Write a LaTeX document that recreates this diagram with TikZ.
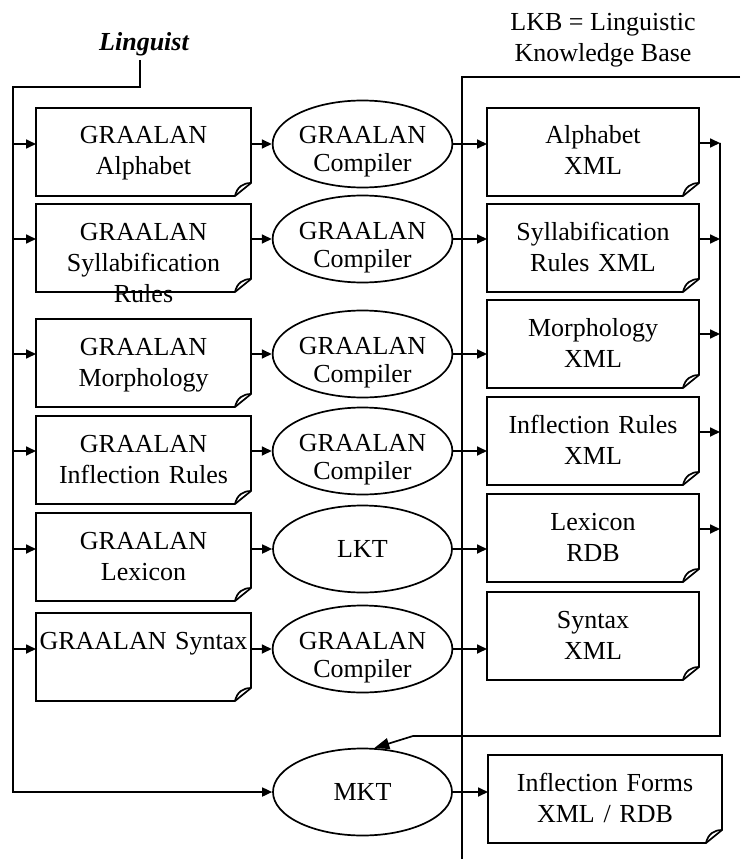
\documentclass[tikz,border=0pt]{standalone}
\usepackage{fontspec}
\setmainfont{Liberation Serif}
\usetikzlibrary{shapes.geometric,arrows.meta}

% two lines in an ellipse, first baseline on the centre line
\newcommand{\twol}[2]{\raisebox{0pt}[30pt][30pt]{\begin{tabular}[t]{@{}c@{}}#1\\#2\end{tabular}}}

\tikzset{
  doc/.style={anchor=north west, text width=215pt, align=center, text height=36pt,
    text depth=52pt, inner sep=0pt, outer sep=0pt},
  tool/.style={ellipse, draw, minimum width=179pt, minimum height=87pt, inner sep=0pt,
    font=\fontsize{26}{28}\selectfont},
  flow/.style={-{Triangle[length=10pt,width=9pt]}},
}

\begin{document}
\begin{tikzpicture}[x=1pt,y=-1pt,line width=1.7pt,font=\fontsize{26}{31}\selectfont]
    \useasboundingbox (0,0) rectangle (740,861);

    % labels on top
    \node[font=\fontsize{26}{31}\selectfont\bfseries\itshape] (ling) at (144,44) {Linguist};
    \node[align=center] (lkb) at (603,40) {LKB = Linguistic\\Knowledge Base};

    % source files
    \node[doc] (l1) at (36,108) {GRAALAN\\Alphabet};
    \node[doc] (l2) at (36,204) {GRAALAN\\Syllabification\\Rules};
    \node[doc] (l3) at (36,319) {GRAALAN\\Morphology};
    \node[doc] (l4) at (36,416) {GRAALAN\\Inflection Rules};
    \node[doc] (l5) at (36,513) {GRAALAN\\Lexicon};
    \node[doc] (l6) at (36,613) {GRAALAN Syntax};

    % tools
    \node[tool] (e1) at (362.5,144) {\twol{GRAALAN}{Compiler}};
    \node[tool] (e2) at (362.5,239) {\twol{GRAALAN}{Compiler}};
    \node[tool] (e3) at (362.5,354) {\twol{GRAALAN}{Compiler}};
    \node[tool] (e4) at (362.5,451) {\twol{GRAALAN}{Compiler}};
    \node[tool] (e5) at (362.5,549) {LKT};
    \node[tool] (e6) at (362.5,649) {\twol{GRAALAN}{Compiler}};
    \node[tool] (mkt) at (362.5,792) {MKT};

    % LKB files
    \node[doc, text width=212pt] (r1) at (487,108) {Alphabet\\XML};
    \node[doc, text width=212pt] (r2) at (487,204) {Syllabification\\Rules XML};
    \node[doc, text width=212pt] (r3) at (487,300) {Morphology\\XML};
    \node[doc, text width=212pt] (r4) at (487,397) {Inflection Rules\\XML};
    \node[doc, text width=212pt] (r5) at (487,494) {Lexicon\\RDB};
    \node[doc, text width=212pt] (r6) at (487,592) {Syntax\\XML};
    \node[doc, text width=234pt] (r7) at (488,755) {Inflection Forms\\XML / RDB};

    % document outlines with folded corner
    \foreach \n in {l1,l2,l3,l4,l5,l6,r1,r2,r3,r4,r5,r6,r7} {
        \draw (\n.north west) -- (\n.north east) -- ([yshift=13pt]\n.south east)
            -- ([xshift=-16pt]\n.south east) -- (\n.south west) -- cycle;
        \draw ([xshift=-16pt]\n.south east) .. controls +(2,-9) and +(-8,0) .. ([yshift=13pt]\n.south east);
    }

    % LKB frame
    \coordinate (kb) at (462,77);
    \coordinate (kbr) at (740,77);
    \coordinate (kbb) at (462,859);
    \draw[line width=1.5pt] (kbr) -- (kb) -- (kbb);

    % linguist bus
    \coordinate (lq) at (140,87);
    \coordinate (lc) at (13,87);
    \draw[flow] (ling.south -| lq) -- (lq) -- (lc) |- (mkt.west);
    \foreach \i in {1,...,6} {
        \draw[flow] (e\i.west -| lc) -- (e\i.west -| l\i.west);
        \draw[flow] (e\i.west -| l\i.east) -- (e\i.west);
        \draw[flow] (e\i.east) -- (e\i.east -| r\i.west);
    }
    \draw[flow] (mkt.east) -- (mkt.east -| r7.west);

    % LKB bus to MKT
    \coordinate (t1) at (720,143);
    \coordinate (t2) at (720,239);
    \coordinate (t3) at (720,334);
    \coordinate (t4) at (720,432);
    \coordinate (t5) at (720,529);
    \coordinate (rb) at (720,736);
    \coordinate (rk) at (413,736);
    \foreach \i in {1,...,5} {\draw[flow] (t\i -| r\i.east) -- (t\i);}
    \draw[-{Triangle[length=15pt,width=11pt]}] (t1) -- (rb) -- (rk) -- (mkt.75);
\end{tikzpicture}
\end{document}
